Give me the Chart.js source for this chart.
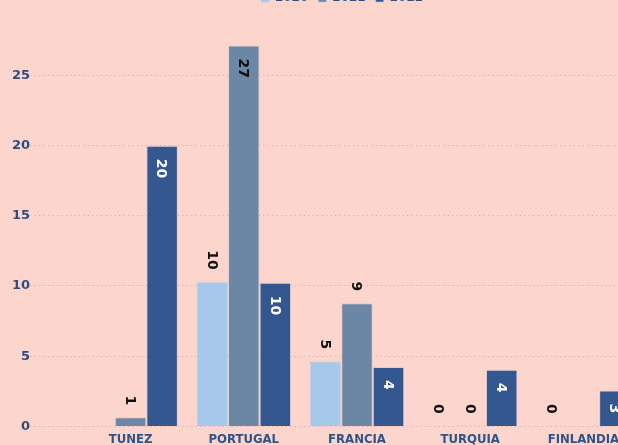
<!DOCTYPE html>
<html>
<head>
<meta charset="utf-8">
<script src="https://cdn.jsdelivr.net/npm/chart.js@4.4.0/dist/chart.umd.min.js"></script>
<style>
  html, body { margin: 0; padding: 0; background: #fcd6cd; overflow: hidden; width: 618px; height: 445px; }
  #wrap { position: absolute; left: 0; top: -18px; }
</style>
</head>
<body>
<div id="wrap"><canvas id="paises" width="684" height="470"></canvas></div>
<script>
// Datos por país y año
const paises = ['TUNEZ', 'PORTUGAL', 'FRANCIA', 'TURQUIA', 'FINLANDIA'];
const anios = ['2020', '2021', '2022'];
const datos2020 = [null, 10.29, 4.63, 0.05, 0.05];
const datos2021 = [0.66, 27.12, 8.76, 0.05, null];
const datos2022 = [19.97, 10.22, 4.23, 4.04, 2.55];
const colores = ['#a5c8eb', '#6c87a5', '#35578f'];
const yTicks = [0, 5, 10, 15, 20, 25];

// etiquetas giradas encima / dentro de cada barra
const etiquetasBarras = {
    id: 'etiquetasBarras',
    afterDatasetsDraw(chart) {
        const ctx = chart.ctx;
        const top = chart.chartArea.top;
        ctx.save();
        ctx.font = 'bold 14px "DejaVu Sans"';
        ctx.textBaseline = 'middle';
        chart.data.datasets.forEach((ds, i) => {
            const meta = chart.getDatasetMeta(i);
            meta.data.forEach((bar, j) => {
                const v = ds.data[j];
                if (v === null || v === undefined) return;
                const txt = String(Math.round(v));
                const w = ctx.measureText(txt).width;
                let inside = (i === 2);
                if (!inside && bar.y - 12 - w < top) inside = true;
                ctx.save();
                if (inside) {
                    ctx.translate(bar.x, bar.y + 13);
                    ctx.rotate(Math.PI / 2);
                    ctx.textAlign = 'left';
                    ctx.fillStyle = i === 2 ? '#ffffff' : '#111111';
                } else {
                    ctx.translate(bar.x, bar.y - 12);
                    ctx.rotate(Math.PI / 2);
                    ctx.textAlign = 'right';
                    ctx.fillStyle = '#111111';
                }
                ctx.fillText(txt, 0, 1);
                ctx.restore();
            });
        });
        ctx.restore();
    }
};

// leyenda: un poco mas de aire debajo y corrida a la derecha
const ajusteLeyenda = {
    id: 'ajusteLeyenda',
    beforeInit(chart) {
        const leg = chart.legend;
        const fitOrig = leg.fit;
        leg.fit = function() {
            fitOrig.bind(leg)();
            this.height += 5;
        };
        const drawOrig = leg.draw;
        leg.draw = function() {
            chart.ctx.save();
            chart.ctx.translate(22, 0);
            drawOrig.bind(leg)();
            chart.ctx.restore();
        };
    }
};

const series = [datos2020, datos2021, datos2022];

const config = {
    type: 'bar',
    data: {
        labels: paises,
        datasets: series.map((d, i) => ({
            label: anios[i],
            data: d,
            backgroundColor: colores[i],
            borderColor: 'rgba(190,200,220,0.55)',
            borderWidth: 1,
            categoryPercentage: 0.835,
            barPercentage: 1
        }))
    },
    options: {
        responsive: false,
        animation: false,
        devicePixelRatio: 1,
        layout: { padding: { left: 0, right: 44, top: 0, bottom: 0 } },
        plugins: {
            legend: {
                position: 'top',
                labels: {
                    usePointStyle: true,
                    pointStyle: 'rect',
                    boxWidth: 8,
                    boxHeight: 8,
                    color: '#2d4d7e',
                    font: { family: 'DejaVu Sans', size: 12, weight: 'bold' }
                }
            },
            tooltip: { enabled: false }
        },
        scales: {
            x: {
                grid: { display: false, drawTicks: false },
                border: { display: false },
                ticks: {
                    color: '#2f5487',
                    padding: 5,
                    font: { family: 'DejaVu Sans Condensed', size: 13, weight: 'bold' }
                }
            },
            y: {
                min: 0,
                max: 29,
                afterFit: function(scale) { scale.width = 74; },
                afterBuildTicks: function(scale) { scale.ticks = yTicks.map(v => ({ value: v })); },
                border: { display: false, dash: [1.5, 3] },
                grid: {
                    color: 'rgba(170,140,140,0.4)',
                    tickBorderDash: [1.5, 3],
                    tickColor: 'rgba(170,140,140,0.4)',
                    tickLength: 44
                },
                ticks: {
                    color: '#2d4d7e',
                    padding: 0,
                    font: { family: 'DejaVu Sans', size: 13, weight: 'bold' }
                }
            }
        }
    },
    plugins: [etiquetasBarras, ajusteLeyenda]
};

new Chart(document.getElementById('paises'), config);
</script>
</body>
</html>
